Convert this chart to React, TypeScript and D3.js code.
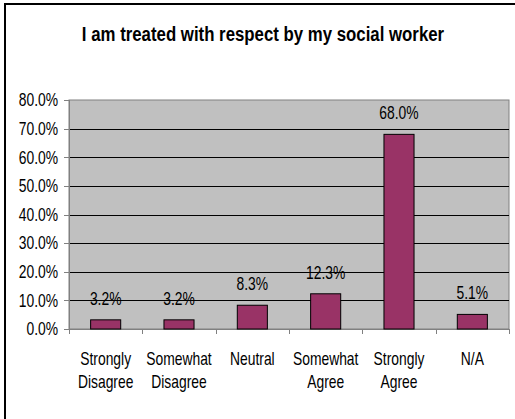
import React from "react";
import * as d3 from "d3";

const title = "I am treated with respect by my social worker";
const categories = [
  ["Strongly", "Disagree"],
  ["Somewhat", "Disagree"],
  ["Neutral"],
  ["Somewhat", "Agree"],
  ["Strongly", "Agree"],
  ["N/A"],
];
const values = [3.2, 3.2, 8.3, 12.3, 68.0, 5.1];
const yTicks = [0, 10, 20, 30, 40, 50, 60, 70, 80];

const W = 515;
const H = 419;
const plot = { left: 69, right: 509, top: 100, bottom: 329 };
const FONT = "'Liberation Sans', Arial, sans-serif";
const SX = 0.77;

function NText({
  x,
  y,
  anchor = "middle",
  size = 18,
  sx = SX,
  weight = "normal",
  dy,
  children,
}: {
  x: number;
  y: number;
  anchor?: string;
  size?: number;
  sx?: number;
  weight?: string;
  dy?: string;
  children: React.ReactNode;
}) {
  return (
    <text
      transform={`translate(${x},${y}) scale(${sx},1)`}
      textAnchor={anchor}
      fontSize={size}
      fontWeight={weight}
      dy={dy}
      fill="#000"
    >
      {children}
    </text>
  );
}

export default function App() {
  const x = d3
    .scaleBand<number>()
    .domain(values.map((_, i) => i))
    .range([plot.left, plot.right])
    .paddingInner(0.59)
    .paddingOuter(0.295);
  const xOuter = d3
    .scaleBand<number>()
    .domain(values.map((_, i) => i))
    .range([plot.left, plot.right]);
  const y = d3.scaleLinear().domain([0, 80]).range([plot.bottom, plot.top]);
  const fmt = d3.format(".1f");

  return (
    <svg
      width={W}
      height={H}
      style={{ position: "absolute", left: 0, top: 0, background: "#fff" }}
      fontFamily={FONT}
    >
      <rect x={5} y={4} width={W} height={H} fill="#fff" stroke="#000" strokeWidth={2} />
      <NText x={263} y={41} size={20.5} sx={0.82} weight="bold">
        {title}
      </NText>
      <rect
        x={plot.left}
        y={plot.top}
        width={plot.right - plot.left}
        height={plot.bottom - plot.top}
        fill="#C0C0C0"
        stroke="#808080"
        strokeWidth={1}
      />
      {yTicks.slice(1, -1).map((t) => (
        <line
          key={"g" + t}
          x1={plot.left}
          x2={plot.right}
          y1={Math.round(y(t)) + 0.5}
          y2={Math.round(y(t)) + 0.5}
          stroke="#000"
          strokeWidth={1}
        />
      ))}
      <line x1={plot.left + 0.5} x2={plot.left + 0.5} y1={plot.top} y2={plot.bottom} stroke="#808080" />
      {yTicks.map((t) => (
        <g key={"yt" + t}>
          <line
            x1={plot.left - 5}
            x2={plot.left}
            y1={Math.round(y(t)) + 0.5}
            y2={Math.round(y(t)) + 0.5}
            stroke="#808080"
          />
          <NText x={58} y={y(t)} dy="0.35em" anchor="end">
            {fmt(t) + "%"}
          </NText>
        </g>
      ))}
      <line x1={plot.left} x2={plot.right} y1={plot.bottom + 0.5} y2={plot.bottom + 0.5} stroke="#808080" />
      {values.map((_, i) => (
        <line
          key={"xt" + i}
          x1={Math.round(xOuter(i)! + xOuter.bandwidth()) + 0.5}
          x2={Math.round(xOuter(i)! + xOuter.bandwidth()) + 0.5}
          y1={plot.bottom}
          y2={plot.bottom + 5}
          stroke="#808080"
        />
      ))}
      <line x1={plot.left + 0.5} x2={plot.left + 0.5} y1={plot.bottom} y2={plot.bottom + 5} stroke="#808080" />
      {values.map((v, i) => (
        <g key={"b" + i}>
          <rect
            x={x(i)}
            y={y(v)}
            width={x.bandwidth()}
            height={plot.bottom - y(v)}
            fill="#993366"
            stroke="#000"
            strokeWidth={1}
          />
          <NText x={x(i)! + x.bandwidth() / 2} y={y(v) - 15}>
            {fmt(v) + "%"}
          </NText>
        </g>
      ))}
      {categories.map((lines, i) =>
        lines.map((l, j) => (
          <NText key={"c" + i + "-" + j} x={xOuter(i)! + xOuter.bandwidth() / 2} y={365 + j * 23}>
            {l}
          </NText>
        ))
      )}
    </svg>
  );
}
